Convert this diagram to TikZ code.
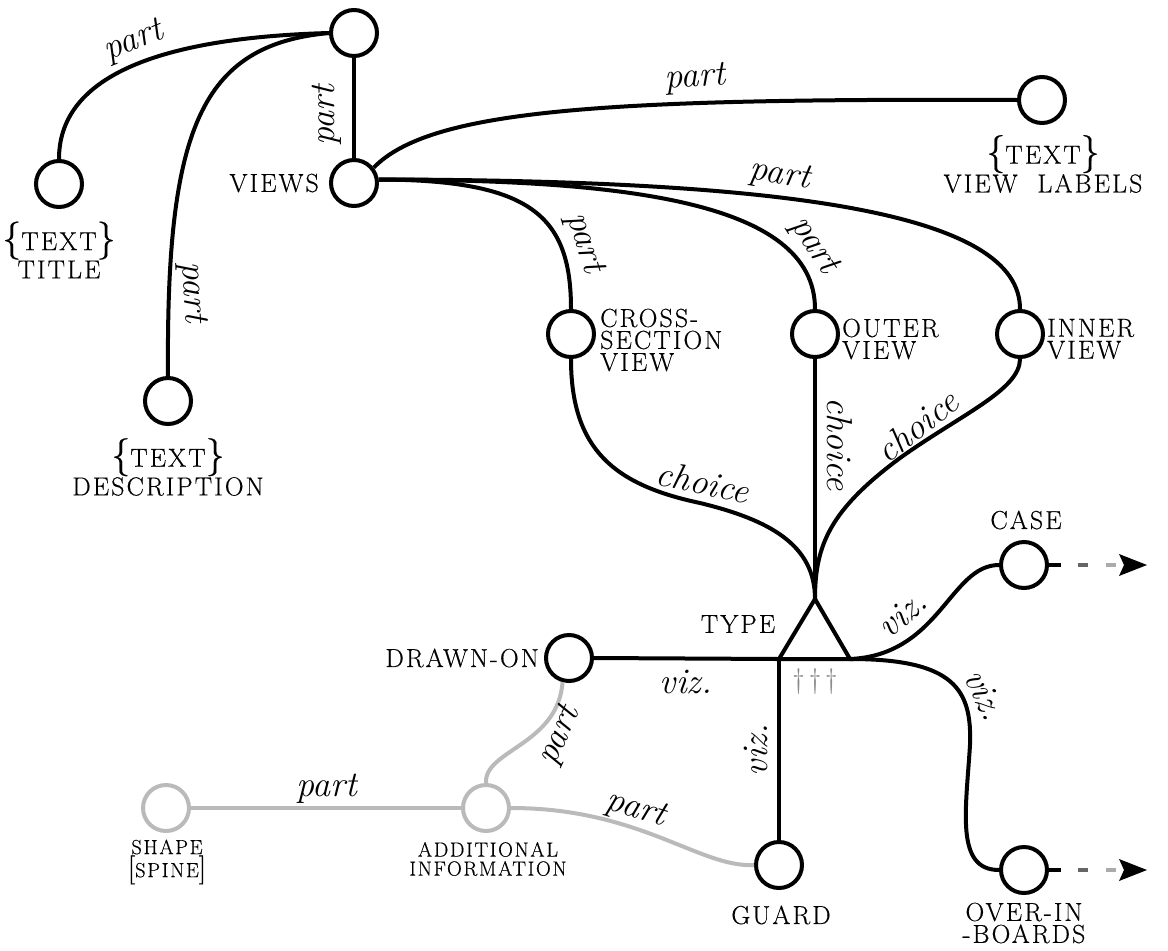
\documentclass[tikz,border=0pt]{standalone}
\usepackage{fontspec}
\setmainfont{Latin Modern Roman}
\newfontfamily\capsfont[LetterSpace=8,FakeBold=0.4]{Latin Modern Roman}
\begin{document}
\begin{tikzpicture}[x=1pt,y=-1pt]
\tikzset{
 nd/.style={circle,draw,line width=4pt,minimum size=46pt,inner sep=0pt,fill=white},
 gnd/.style={nd,draw=black!27},
 edge/.style={line width=4pt},
 gedge/.style={edge,draw=black!27},
 lab/.style={font=\itshape\fontsize{36}{36}\selectfont,inner sep=0pt},
 capt/.style={font=\capsfont\fontsize{26}{22}\selectfont,inner sep=0pt,align=center},
 captl/.style={capt,align=left},
 scapt/.style={font=\capsfont\fontsize{20.5}{19}\selectfont,inner sep=0pt,align=center},
}
\newcommand{\lbr}{{\fontsize{38}{38}\selectfont\{}}
\newcommand{\rbr}{{\fontsize{38}{38}\selectfont\}}}
\useasboundingbox[fill=white] (0,0) rectangle (1168,951);
% nodes
\node[nd] (root) at (354,33) {};
\node[nd] (views) at (354,183) {};
\node[nd] (title) at (59,184) {};
\node[nd] (desc) at (168,401) {};
\node[nd] (vlab) at (1042,100) {};
\node[nd] (cross) at (571,334) {};
\node[nd] (outer) at (815,334) {};
\node[nd] (inner) at (1020,334) {};
\node[nd] (drawn) at (569,658) {};
\node[nd] (casen) at (1024,565) {};
\node[nd] (overin) at (1024,870) {};
\node[nd] (guard) at (779,865) {};
\node[gnd] (shape) at (166,808) {};
\node[gnd] (addinf) at (486,808) {};
\coordinate (apex) at (815,599);
\coordinate (tl) at (779,659);
\coordinate (tr) at (850,659);
% black connectors
\draw[edge] (root.west) .. controls (150,38) and (59,80) .. (title.north);
\draw[edge] (root.west) .. controls (200,45) and (166,130) .. (desc.north);
\draw[edge] (root.south) -- (views.north);
\draw[edge] (views.38) .. controls (430,110) and (600,98) .. (vlab.west);
\draw[edge] (views.8) .. controls (800,180) and (1020,215) .. (inner.north);
\draw[edge] (views.8) .. controls (620,180) and (815,200) .. (outer.north);
\draw[edge] (views.8) .. controls (530,180) and (571,215) .. (cross.north);
\draw[edge] (cross.south) .. controls (571,450) and (615,485) .. (700,503) .. controls (770,520) and (815,545) .. (apex);
\draw[edge] (outer.south) -- (apex);
\draw[edge] (inner.south) .. controls (1020,390) and (960,415) .. (900,458) .. controls (830,510) and (815,545) .. (apex);
\draw[edge,line join=miter] (apex) -- (tl) -- (tr) -- cycle;
\draw[edge] (drawn.east) -- (tl);
\draw[edge] (tl) -- (guard.north);
\draw[edge] (tr) .. controls (940,655) and (950,565) .. (casen.west);
\draw[edge] (tr) .. controls (955,659) and (972,690) .. (970,745) .. controls (966,810) and (955,870) .. (overin.west);
% gray connectors
\draw[gedge] (shape.east) -- (addinf.west);
\draw[gedge] (addinf.north) .. controls (484,750) and (558,745) .. (drawn.255);
\draw[gedge] (addinf.east) .. controls (640,808) and (700,868) .. (guard.west);
% outgoing arrows
\foreach \n in {casen,overin}{
 \draw[line width=4pt] (\n.east) -- ([xshift=12pt]\n.east);
 \draw[line width=4pt,black!60] ([xshift=29pt]\n.east) -- ([xshift=39pt]\n.east);
 \draw[line width=4pt,black!33] ([xshift=57pt]\n.east) -- ([xshift=67pt]\n.east);
 \fill ([xshift=98pt]\n.east) -- ([xshift=70pt,yshift=11pt]\n.east) -- ([xshift=75pt]\n.east) -- ([xshift=70pt,yshift=-11pt]\n.east) -- cycle;
}
% connector labels
\node[lab,rotate=22] (l1) at (134,42) {part};
\node[lab,rotate=90] (l2) at (327,115) {part};
\node[lab,rotate=-87] (l3) at (192,292) {part};
\node[lab,rotate=4] (l4) at (695,79) {part};
\node[lab,rotate=-9] (l5) at (780,176) {part};
\node[lab,rotate=-57] (l6) at (814,246) {part};
\node[lab,rotate=-73] (l7) at (584,243) {part};
\node[lab,rotate=-12] (l8) at (703,482) {choice};
\node[lab,rotate=-90] (l9) at (840,444) {choice};
\node[lab,rotate=38] (l10) at (917,426) {choice};
\node[lab] (l11) at (686,682) {viz.};
\node[lab,rotate=90] (l12) at (756,750) {viz.};
\node[lab,rotate=41] (l13) at (902,614) {viz.};
\node[lab,rotate=-65] (l14) at (985,695) {viz.};
\node[lab] (l15) at (327,789) {part};
\node[lab,rotate=65] (l16) at (560,736) {part};
\node[lab,rotate=-17] (l17) at (636,810) {part};
% node captions
\node[capt,anchor=east] (tviews) at (319,183) {VIEWS};
\node[capt] (ttitle) at (59,250) {\lbr TEXT\rbr\\TITLE};
\node[capt] (tdesc) at (168,467) {\lbr TEXT\rbr\\DESCRIPTION};
\node[capt] (tvlab) at (1043,164) {\lbr TEXT\rbr\\VIEW\ \ LABELS};
\node[captl,anchor=west] (tcross) at (600,340) {CROSS-\\SECTION\\VIEW};
\node[captl,anchor=west] (touter) at (842,339) {OUTER\\VIEW};
\node[captl,anchor=west] (tinner) at (1047,339) {INNER\\VIEW};
\node[capt] (ttype) at (738,624) {TYPE};
\node[capt,anchor=east] (tdrawn) at (539,658) {DRAWN-ON};
\node[capt] (tcase) at (1026,520) {CASE};
\node[capt] (tover) at (1024,923) {OVER-IN\\-BOARDS};
\node[capt] (tguard) at (781,915) {GUARD};
\node[scapt] (tshape) at (167,862) {SHAPE\\{\fontsize{29}{29}\selectfont[}SPINE{\fontsize{29}{29}\selectfont]}};
\node[scapt] (tadd) at (488,859) {ADDITIONAL\\INFORMATION};
\node[font=\fontsize{28}{28}\selectfont,text=black!45,inner sep=0pt] (dags) at (815,682) {\textdagger\hspace{4pt}\textdagger\hspace{4pt}\textdagger};
\end{tikzpicture}
\end{document}
